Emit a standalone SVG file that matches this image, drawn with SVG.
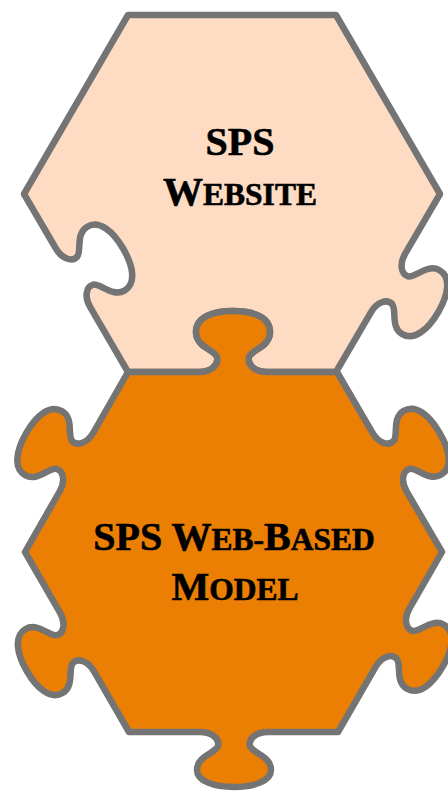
<svg xmlns="http://www.w3.org/2000/svg" width="448" height="795" viewBox="0 0 448 795">
<style>
.piece{stroke:#747474;stroke-width:6.5;stroke-linejoin:round}
.top{fill:#FDDCC3}
.bot{fill:#EB7F04}
.lbl{font-family:"Liberation Serif","Times New Roman",serif;font-weight:bold;fill:#000;stroke:#000;stroke-width:0.6;text-anchor:middle}
.cap{font-size:40px}
.sc{font-size:31.5px}
</style>
<g id="sps-website">
<path class="piece top" d="M 128,15 L 336,15 L 440,194 L 405.2,253.6 C 399.1,264.0 401.1,274.4 408.2,276.3 C 415.2,278.1 427.4,263.2 439.5,270.2 C 451.6,277.3 448.2,295.0 438.1,312.3 C 428.0,329.5 414.2,341.2 402.2,334.1 C 390.1,327.1 397.1,309.1 392.0,303.9 C 387.0,298.6 376.9,302.0 370.9,312.4 L 336,372 L 267,372 C 255,372 247,365 249,357 C 251,350 270,347 270,332 C 270,317 253,311 233,311 C 213,311 196,317 196,332 C 196,347 215,350 217,357 C 219,365 211,372 199,372 L 128,372 L 90.2,307.2 C 84.1,296.8 86.1,286.4 93.2,284.6 C 100.2,282.8 112.4,297.6 124.5,290.6 C 136.6,283.5 133.2,265.8 123.1,248.5 C 113.0,231.3 99.2,219.6 87.2,226.7 C 75.1,233.8 82.1,251.7 77.0,256.9 C 72.0,262.2 61.9,258.8 55.9,248.5 L 24,194 Z"/>
<text class="lbl" x="240" y="155"><tspan class="cap">SPS</tspan></text>
<text class="lbl" x="240" y="205"><tspan class="cap">W</tspan><tspan class="sc">EBSITE</tspan></text>
</g>
<g id="sps-web-based-model">
<path class="piece bot" d="M 128,372 L 199,372 C 211,372 219,365 217,357 C 215,350 196,347 196,332 C 196,317 213,311 233,311 C 253,311 270,317 270,332 C 270,347 251,350 249,357 C 247,365 255,372 267,372 L 337,372 L 372.4,432.6 C 378.4,443.0 388.5,446.4 393.5,441.1 C 398.6,435.9 391.6,418.0 403.7,410.9 C 415.8,403.8 429.5,415.5 439.6,432.8 C 449.7,450.1 453.1,467.8 441.0,474.8 C 428.9,481.9 416.7,467.0 409.7,468.8 C 402.6,470.6 400.6,481.0 406.6,491.4 L 442,552 L 409.5,608.3 C 403.5,618.7 405.6,629.1 412.6,630.9 C 419.7,632.6 431.8,617.7 443.9,624.7 C 456.0,631.7 452.7,649.4 442.7,666.7 C 432.7,684.0 419.0,695.7 406.9,688.7 C 394.8,681.7 401.7,663.8 396.6,658.6 C 391.6,653.3 381.5,656.8 375.5,667.1 L 338,732 L 268,732 C 256,732 248,739 250,746 C 252,753 271,756 271,770 C 271,781 254,787 234,787 C 214,787 197,781 197,770 C 197,756 216,753 218,746 C 220,739 212,732 200,732 L 129,732 L 94.0,671.4 C 88.0,661.1 77.9,657.6 72.9,662.9 C 67.8,668.1 74.7,686.0 62.6,693.0 C 50.5,700.0 36.8,688.3 26.8,671.0 C 16.8,653.7 13.5,636.0 25.6,629.0 C 37.7,622.0 49.8,636.9 56.9,635.2 C 63.9,633.4 66.0,623.0 60.0,612.6 L 25,552 L 59.6,491.5 C 65.6,481.1 63.5,470.7 56.4,468.9 C 49.3,467.2 37.3,482.2 25.2,475.2 C 13.0,468.3 16.2,450.6 26.2,433.2 C 36.1,415.8 49.7,404.1 61.9,411.0 C 74.0,418.0 67.2,436.0 72.3,441.2 C 77.4,446.4 87.4,442.9 93.4,432.5 L 128,372 Z"/>
<text class="lbl" x="234" y="550"><tspan class="cap">SPS W</tspan><tspan class="sc">EB-</tspan><tspan class="cap">B</tspan><tspan class="sc">ASED</tspan></text>
<text class="lbl" x="235" y="600"><tspan class="cap">M</tspan><tspan class="sc">ODEL</tspan></text>
</g>
<g id="connectors"></g>
</svg>
